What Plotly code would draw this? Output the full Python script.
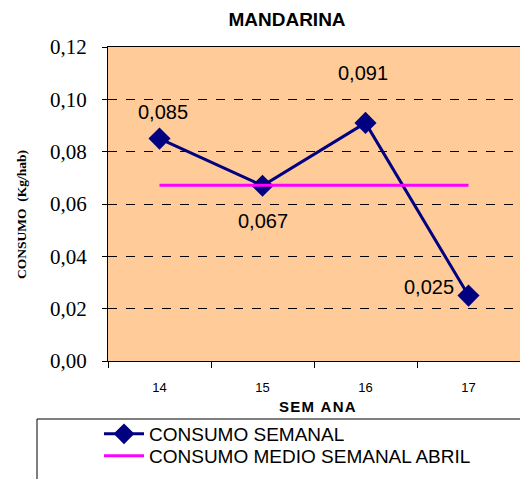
import plotly.graph_objects as go

semanas = ["14", "15", "16", "17"]
consumo_semanal = [0.085, 0.067, 0.091, 0.025]
consumo_medio_abril = [0.0672, 0.0672, 0.0672, 0.0672]
etiquetas = ["0,085", "0,067", "0,091", "0,025"]
y_ticks = [0.00, 0.02, 0.04, 0.06, 0.08, 0.10, 0.12]

# the page body has an 8px margin, so the figure is placed at (8, 8)
OFF = 8
W, H = 528 - OFF, 479 - OFF
# plot area in page pixels: x 108..520, y 47..361
L = 108 - OFF
R = W - (520 - OFF)
T = 47 - OFF
B = H - (361 - OFF)
pw, ph = W - L - R, H - T - B

def px_x(p):
    return (p - OFF - L) / pw

def px_y(p):
    return (H - B - (p - OFF)) / ph

SERIF = "Liberation Serif"

fig = go.Figure()
fig.add_trace(go.Scatter(
    x=semanas, y=consumo_semanal, mode="lines+markers", name="CONSUMO SEMANAL",
    line=dict(color="#000080", width=3),
    marker=dict(symbol="diamond", size=17, color="#000080"),
    legend="legend",
))
fig.add_trace(go.Scatter(
    x=semanas, y=consumo_medio_abril, mode="lines", name="CONSUMO MEDIO SEMANAL ABRIL",
    line=dict(color="#FF00FF", width=3),
    legend="legend2",
))

# data labels (category index positions)
offsets = [(3, 27), (0, -35), (-3, 50), (-40, 9)]
for i, (v, t, (dx, dy)) in enumerate(zip(consumo_semanal, etiquetas, offsets)):
    fig.add_annotation(x=i, y=v, xref="x", yref="y", text=t, showarrow=False, xshift=dx, yshift=dy,
                       font=dict(family="Arial", size=20, color="black"))

# y axis title
fig.add_annotation(x=px_x(21), y=px_y(215), xref="paper", yref="paper", text="<b>CONSUMO  (Kg/hab)</b>",
                   textangle=-90, showarrow=False, xanchor="center", yanchor="middle",
                   font=dict(family=SERIF, size=13.5, color="black"))
# x axis title
fig.add_annotation(x=px_x(317), y=px_y(406), xref="paper", yref="paper",
                   text="<b>S\u200aE\u200aM\u2009 A\u200aN\u200aA</b>",
                   showarrow=False, xanchor="center", yanchor="middle",
                   font=dict(family="Arial", size=15, color="black"))

# legend box
fig.add_shape(type="rect", xref="paper", yref="paper",
              x0=px_x(37), x1=px_x(545), y0=px_y(419), y1=px_y(495),
              line=dict(color="black", width=1), fillcolor="white", layer="below")

legend_common = dict(xanchor="left", yanchor="middle", bgcolor="rgba(0,0,0,0)", borderwidth=0,
                     font=dict(family="Arial", size=19, color="black"), itemwidth=40)

fig.update_layout(
    width=W, height=H,
    margin=dict(l=L, r=R, t=T, b=B, autoexpand=False),
    paper_bgcolor="white", plot_bgcolor="#FFCC99",
    separators=",.",
    title=dict(text="<b>MANDARINA</b>", xref="paper", x=px_x(287), xanchor="center",
               yref="container", y=1 - (19 - OFF) / H, yanchor="middle",
               font=dict(family="Arial", size=19, color="black")),
    showlegend=True,
    legend=dict(x=px_x(99), y=px_y(434), **legend_common),
    legend2=dict(x=px_x(99), y=px_y(456), **legend_common),
    xaxis=dict(type="category", range=[-0.5, 3.5], tickson="boundaries", ticks="outside",
               ticklen=6, tickcolor="black", showline=True, linecolor="black", linewidth=1,
               mirror=True, showgrid=False, automargin=False, ticklabelstandoff=14,
               tickfont=dict(family="Arial", size=13, color="black")),
    yaxis=dict(range=[0, 0.12], tickvals=y_ticks, tickformat=".2f", ticks="outside",
               ticklen=5, tickcolor="black", showline=True, linecolor="black", linewidth=1,
               mirror=True, showgrid=True, gridcolor="black", griddash="dash", gridwidth=1,
               zeroline=False, automargin=False, ticklabelstandoff=11,
               tickfont=dict(family=SERIF, size=21, color="black")),
)

fig.write_html("out.html")
